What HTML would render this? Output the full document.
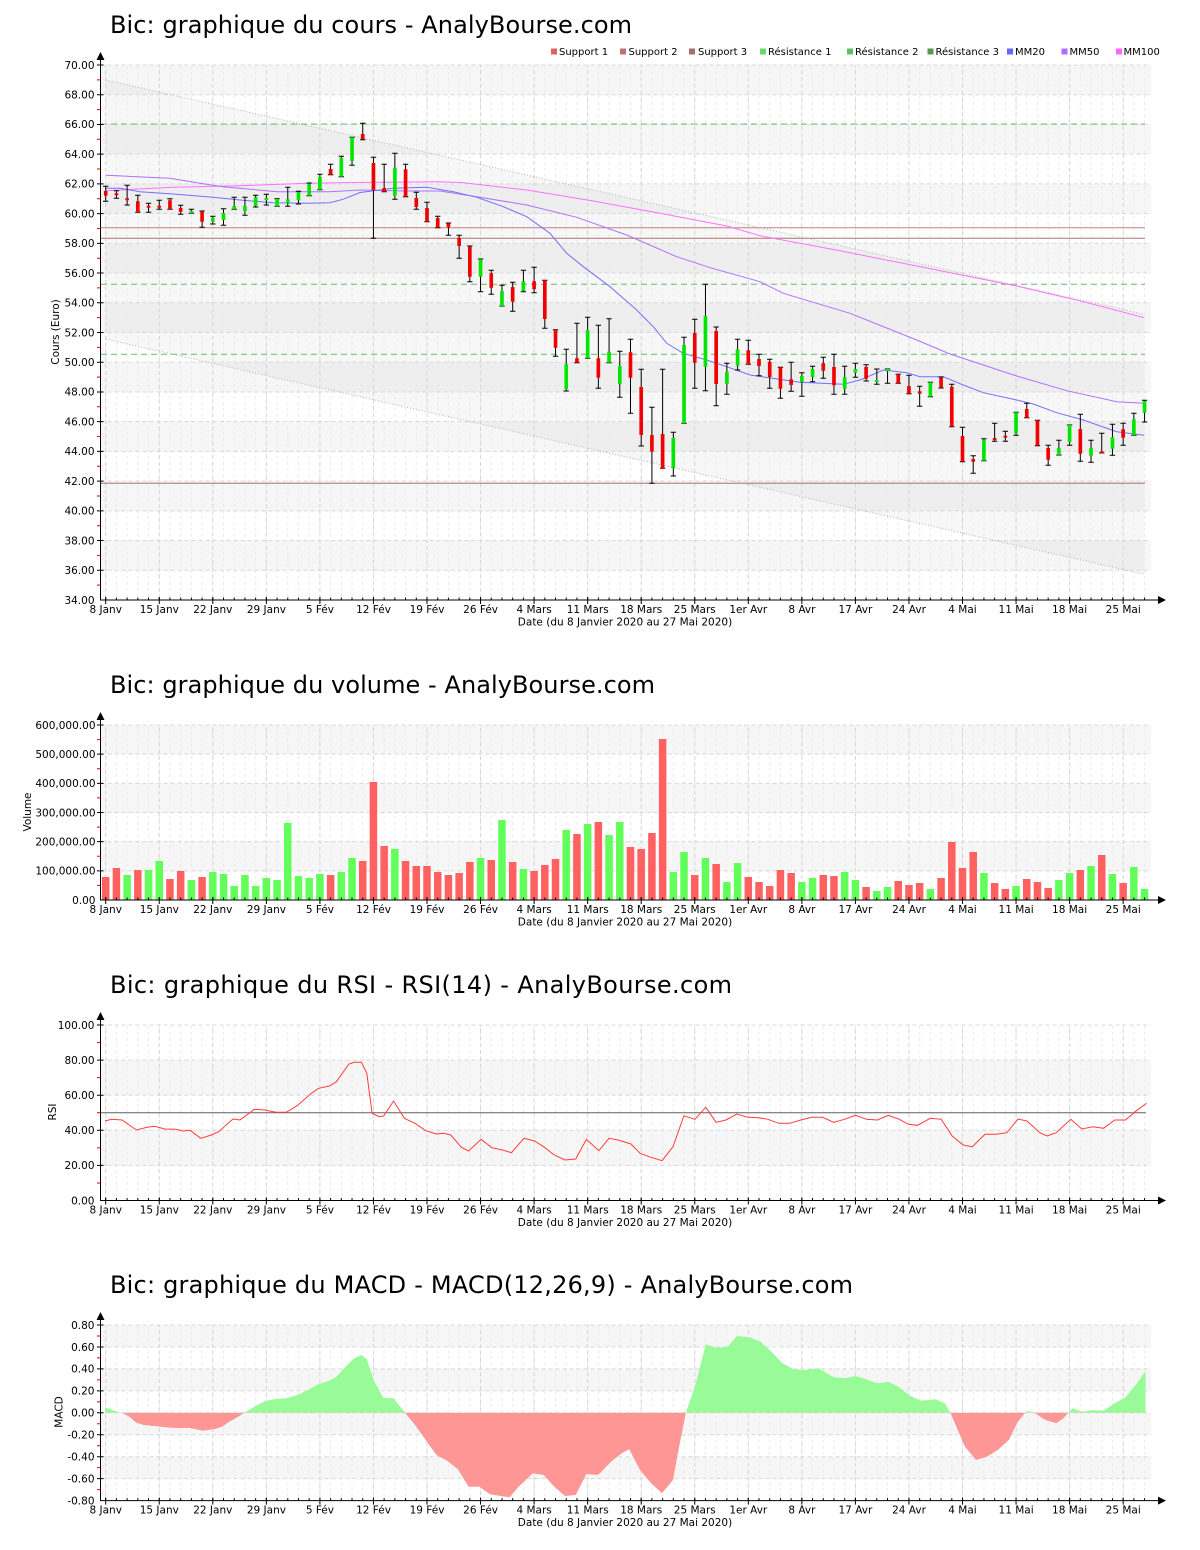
<!DOCTYPE html>
<html><head><meta charset="utf-8">
<style>
html,body{margin:0;padding:0;background:#fff}
svg{display:block}
text{font-family:"DejaVu Sans","Liberation Sans",sans-serif;fill:#000}
.t{font-size:24px}
.a{font-size:10.5px}
.l{font-size:10px}
.ns{vector-effect:non-scaling-stroke}
</style></head>
<body>
<svg xmlns="http://www.w3.org/2000/svg" width="1200" height="1550" viewBox="0 0 1200 1550">
<defs>
<pattern id="mg" x="105.2" y="0" width="10.71" height="6" patternUnits="userSpaceOnUse"><rect width="1" height="3" fill="#ebebeb"/></pattern>
<pattern id="Mg" x="105.2" y="0" width="53.55" height="7" patternUnits="userSpaceOnUse"><rect width="1" height="4" fill="#d6d6d6"/></pattern>
<pattern id="mt" x="105.2" y="0" width="10.71" height="1" patternUnits="userSpaceOnUse"><rect width="1" height="1" fill="#000"/></pattern>
<pattern id="Mt" x="105.2" y="0" width="53.55" height="1" patternUnits="userSpaceOnUse"><rect width="1" height="1" fill="#000"/></pattern>
<clipPath id="cu"><rect x="90" y="1300" width="1100" height="112.8"/></clipPath>
<clipPath id="cd"><rect x="90" y="1412.8" width="1100" height="100"/></clipPath>
</defs>

<!-- ================= PRICE CHART ================= -->
<text class="t" x="110" y="33" textLength="522" lengthAdjust="spacing">Bic: graphique du cours - AnalyBourse.com</text>

<!-- legend -->
<g>
<rect x="551" y="48.5" width="6" height="6" fill="#d86666"/><text class="l" x="559" y="55">Support 1</text>
<rect x="620" y="48.5" width="6" height="6" fill="#c07070"/><text class="l" x="628.5" y="55">Support 2</text>
<rect x="689" y="48.5" width="6" height="6" fill="#a07070"/><text class="l" x="698" y="55">Support 3</text>
<rect x="760" y="48.5" width="6" height="6" fill="#66dd66"/><text class="l" x="768" y="55">Résistance 1</text>
<rect x="847" y="48.5" width="6" height="6" fill="#66bb66"/><text class="l" x="855" y="55">Résistance 2</text>
<rect x="927.5" y="48.5" width="6" height="6" fill="#559955"/><text class="l" x="935.5" y="55">Résistance 3</text>
<rect x="1007" y="48.5" width="6" height="6" fill="#6666ff"/><text class="l" x="1015" y="55">MM20</text>
<rect x="1061.5" y="48.5" width="6" height="6" fill="#b070ff"/><text class="l" x="1069.5" y="55">MM50</text>
<rect x="1116" y="48.5" width="6" height="6" fill="#ff66ff"/><text class="l" x="1123.5" y="55">MM100</text>
</g>

<g fill="#f6f6f6">
<rect x="100.5" y="65" width="1050.5" height="29.72"/>
<rect x="100.5" y="124.44" width="1050.5" height="29.72"/>
<rect x="100.5" y="183.89" width="1050.5" height="29.72"/>
<rect x="100.5" y="243.33" width="1050.5" height="29.72"/>
<rect x="100.5" y="302.78" width="1050.5" height="29.72"/>
<rect x="100.5" y="362.22" width="1050.5" height="29.72"/>
<rect x="100.5" y="421.67" width="1050.5" height="29.72"/>
<rect x="100.5" y="481.11" width="1050.5" height="29.72"/>
<rect x="100.5" y="540.56" width="1050.5" height="29.72"/>
</g>
<polygon points="105.7,80 1144.3,314.3 1144.3,574.3 105.7,339.1" fill="rgba(0,0,0,0.03)"/>
<rect x="100.5" y="65" width="1050.5" height="535" fill="url(#mg)"/>
<rect x="100.5" y="65" width="1050.5" height="535" fill="url(#Mg)"/>
<path d="M100.5 65H1151M100.5 94.72H1151M100.5 124.44H1151M100.5 154.17H1151M100.5 183.89H1151M100.5 213.61H1151M100.5 243.33H1151M100.5 273.06H1151M100.5 302.78H1151M100.5 332.5H1151M100.5 362.22H1151M100.5 391.94H1151M100.5 421.67H1151M100.5 451.39H1151M100.5 481.11H1151M100.5 510.83H1151M100.5 540.56H1151M100.5 570.28H1151" stroke="#d8d8d8" stroke-dasharray="4 3" fill="none"/>

<!-- resistance -->
<path d="M101 124H1145M101 284.3H1145M101 354.3H1145" stroke="#6cb86c" stroke-dasharray="6 4" fill="none"/>
<!-- supports -->
<path d="M101 227.7H1145" stroke="#c08080" fill="none"/>
<path d="M101 238.3H1145M101 483.3H1145" stroke="#b07070" fill="none"/>
<!-- channel -->
<path d="M105.7 80L1144.3 314.3M105.7 339.1L1144.3 574.3" stroke="#b0b0b0" stroke-dasharray="1 2" fill="none"/>

<!-- MM100 -->
<polyline fill="none" stroke="#ff70ff" points="105.7,190.7 173,187.3 240,185.7 306.7,183.3 373,182.3 440,181.7 463.3,182.7 526.7,190 593.3,201 660,213.3 726.7,226 760,235.7 836,250 916.7,266 1016.7,286 1083.3,301.7 1144.3,317.7"/>
<!-- MM50 -->
<polyline fill="none" stroke="#b070ff" points="105.7,175.3 136.7,176.7 170,178.3 200,183.3 223,186.7 276.7,191.7 330,191.7 360,190 406.7,191 440,191 476.7,196.7 526.7,205 576.7,217.3 626.7,235 676.7,256.7 710,267.7 760,281.7 783.3,293.3 850,313.3 916.7,340 950,354 1016.7,376 1066.7,390.7 1116.7,401.7 1144.3,403.3"/>
<!-- MM20 -->
<polyline fill="none" stroke="#7070ff" points="105.7,188.3 120,188.3 140,191.7 173,194 213,197.3 240,200 273,202.7 306.7,203.3 330,202.7 343,199.3 360,192.5 393.3,188.3 426.7,187.3 453.3,191.7 476.7,197.3 503.3,206.7 526.7,216.7 550,233.3 566.7,253.3 583.3,266.7 610,286.7 636.7,310 653.3,326.7 666.7,343.3 683.3,353.3 706.7,360 726.7,366.7 750,375 800,382.3 843.3,384.3 860,380 883.3,370 906.7,372.7 920,376.7 943.3,376.7 963.3,385 983.3,392.7 1016.7,400 1033.3,404 1056.7,412.7 1083.3,420 1116.7,431.7 1144.3,435.3"/>

<!-- candles -->
<g transform="translate(105.7 0) scale(10.71 1)">
<path class="ns" stroke="#000" stroke-width="1" fill="none" d="M0 186.3V201.3M1 190.7V198.3M2 185.3V205M3 195.3V212.3M4 203.3V212.3M5 200.3V209.3M6 198.7V209.3M7 205.3V214.3M8 209.3V213.3M9 211V227.3M10 216.3V224M11 208.7V225.3M12 197.3V209.3M13 197.3V215.3M14 195.3V207M15 194.3V205M16 198.7V206.3M17 187.3V206.3M18 191.3V204M19 183V195.7M20 174.3V189.7M21 164.3V174.7M22 156.3V176.7M23 137.3V165.3M24 123.3V139.7M25 157.3V238.3M26 164.3V191.7M27 153.3V199.3M28 164.3V196.7M29 192.3V209.3M30 202.3V221.7M31 216.3V227.7M32 223V235.3M33 235.3V258.3M34 246V281.7M35 259V291.7M36 270.3V294.3M37 285.3V306M38 282.3V311.3M39 270.3V291.7M40 267.3V292.7M41 280.3V328.3M42 329.7V356.3M43 349.3V391M44 323.3V362.7M45 317.3V358.3M46 325.3V388.3M47 318.7V362.7M48 351.3V397.3M49 339.3V413.3M50 369.3V446M51 407.3V483.3M52 369.3V468.3M53 432.3V476M54 337.3V423.3M55 319.3V388.3M56 284.3V390.7M57 327V405.7M58 363.3V394.3M59 339.3V370M60 340.3V364.3M61 354.3V375.7M62 359.3V388.3M63 367.3V398.3M64 362.3V391.3M65 372.7V396.3M66 366.3V381.7M67 357.3V378.3M68 354.3V394.3M69 366.3V394.3M70 363.3V377.3M71 364.7V381M72 369V384.3M73 369V383.3M74 374.3V383.3M75 375.3V393.7M76 386.3V406.3M77 382.3V396.7M78 377V388M79 384.3V426.7M80 427.3V461.7M81 455.7V473.3M82 438.7V460.7M83 423.3V441.3M84 431.3V441.3M85 412.3V435.3M86 403.3V417.7M87 420.3V445.7M88 445.3V465.3M89 440.3V455M90 425V445.3M91 414.3V461.3M92 440.3V462.3M93 433.3V453M94 424.3V455.3M95 423.3V445.3M96 413.3V435.3M97 400.3V422"/>
<path class="ns" stroke="#000" stroke-width="1" fill="none" d="M-.25 186.3h.5M-.25 201.3h.5M.75 190.7h.5M.75 198.3h.5M1.75 185.3h.5M1.75 205h.5M2.75 195.3h.5M2.75 212.3h.5M3.75 203.3h.5M3.75 212.3h.5M4.75 200.3h.5M4.75 209.3h.5M5.75 198.7h.5M5.75 209.3h.5M6.75 205.3h.5M6.75 214.3h.5M7.75 209.3h.5M7.75 213.3h.5M8.75 211h.5M8.75 227.3h.5M9.75 216.3h.5M9.75 224h.5M10.75 208.7h.5M10.75 225.3h.5M11.75 197.3h.5M11.75 209.3h.5M12.75 197.3h.5M12.75 215.3h.5M13.75 195.3h.5M13.75 207h.5M14.75 194.3h.5M14.75 205h.5M15.75 198.7h.5M15.75 206.3h.5M16.75 187.3h.5M16.75 206.3h.5M17.75 191.3h.5M17.75 204h.5M18.75 183h.5M18.75 195.7h.5M19.75 174.3h.5M19.75 189.7h.5M20.75 164.3h.5M20.75 174.7h.5M21.75 156.3h.5M21.75 176.7h.5M22.75 137.3h.5M22.75 165.3h.5M23.75 123.3h.5M23.75 139.7h.5M24.75 157.3h.5M24.75 238.3h.5M25.75 164.3h.5M25.75 191.7h.5M26.75 153.3h.5M26.75 199.3h.5M27.75 164.3h.5M27.75 196.7h.5M28.75 192.3h.5M28.75 209.3h.5M29.75 202.3h.5M29.75 221.7h.5M30.75 216.3h.5M30.75 227.7h.5M31.75 223h.5M31.75 235.3h.5M32.75 235.3h.5M32.75 258.3h.5M33.75 246h.5M33.75 281.7h.5M34.75 259h.5M34.75 291.7h.5M35.75 270.3h.5M35.75 294.3h.5M36.75 285.3h.5M36.75 306h.5M37.75 282.3h.5M37.75 311.3h.5M38.75 270.3h.5M38.75 291.7h.5M39.75 267.3h.5M39.75 292.7h.5M40.75 280.3h.5M40.75 328.3h.5M41.75 329.7h.5M41.75 356.3h.5M42.75 349.3h.5M42.75 391h.5M43.75 323.3h.5M43.75 362.7h.5M44.75 317.3h.5M44.75 358.3h.5M45.75 325.3h.5M45.75 388.3h.5M46.75 318.7h.5M46.75 362.7h.5M47.75 351.3h.5M47.75 397.3h.5M48.75 339.3h.5M48.75 413.3h.5M49.75 369.3h.5M49.75 446h.5M50.75 407.3h.5M50.75 483.3h.5M51.75 369.3h.5M51.75 468.3h.5M52.75 432.3h.5M52.75 476h.5M53.75 337.3h.5M53.75 423.3h.5M54.75 319.3h.5M54.75 388.3h.5M55.75 284.3h.5M55.75 390.7h.5M56.75 327h.5M56.75 405.7h.5M57.75 363.3h.5M57.75 394.3h.5M58.75 339.3h.5M58.75 370h.5M59.75 340.3h.5M59.75 364.3h.5M60.75 354.3h.5M60.75 375.7h.5M61.75 359.3h.5M61.75 388.3h.5M62.75 367.3h.5M62.75 398.3h.5M63.75 362.3h.5M63.75 391.3h.5M64.75 372.7h.5M64.75 396.3h.5M65.75 366.3h.5M65.75 381.7h.5M66.75 357.3h.5M66.75 378.3h.5M67.75 354.3h.5M67.75 394.3h.5M68.75 366.3h.5M68.75 394.3h.5M69.75 363.3h.5M69.75 377.3h.5M70.75 364.7h.5M70.75 381h.5M71.75 369h.5M71.75 384.3h.5M72.75 369h.5M72.75 383.3h.5M73.75 374.3h.5M73.75 383.3h.5M74.75 375.3h.5M74.75 393.7h.5M75.75 386.3h.5M75.75 406.3h.5M76.75 382.3h.5M76.75 396.7h.5M77.75 377h.5M77.75 388h.5M78.75 384.3h.5M78.75 426.7h.5M79.75 427.3h.5M79.75 461.7h.5M80.75 455.7h.5M80.75 473.3h.5M81.75 438.7h.5M81.75 460.7h.5M82.75 423.3h.5M82.75 441.3h.5M83.75 431.3h.5M83.75 441.3h.5M84.75 412.3h.5M84.75 435.3h.5M85.75 403.3h.5M85.75 417.7h.5M86.75 420.3h.5M86.75 445.7h.5M87.75 445.3h.5M87.75 465.3h.5M88.75 440.3h.5M88.75 455h.5M89.75 425h.5M89.75 445.3h.5M90.75 414.3h.5M90.75 461.3h.5M91.75 440.3h.5M91.75 462.3h.5M92.75 433.3h.5M92.75 453h.5M93.75 424.3h.5M93.75 455.3h.5M94.75 423.3h.5M94.75 445.3h.5M95.75 413.3h.5M95.75 435.3h.5M96.75 400.3h.5M96.75 422h.5"/>
<path fill="#f00000" d="M-.17 191h.34v4.7h-.34zM.83 193.3h.34v2h-.34zM1.83 198.3h.34v2h-.34zM2.83 201.3h.34v11h-.34zM3.83 205.7h.34v2h-.34zM4.83 205.7h.34v2h-.34zM5.83 200.3h.34v9h-.34zM6.83 208h.34v3.7h-.34zM8.83 211.7h.34v10h-.34zM20.83 169h.34v5.7h-.34zM23.83 134h.34v5h-.34zM24.83 163h.34v27h-.34zM25.83 188h.34v3.7h-.34zM27.83 169.3h.34v27.4h-.34zM28.83 198h.34v9h-.34zM29.83 208h.34v13.7h-.34zM30.83 218h.34v9.7h-.34zM31.83 223.3h.34v4h-.34zM32.83 237.7h.34v8.3h-.34zM33.83 246.7h.34v30h-.34zM35.83 273.3h.34v14.4h-.34zM37.83 287h.34v14.7h-.34zM39.83 281.3h.34v8h-.34zM40.83 280.3h.34v38.7h-.34zM41.83 329.7h.34v18h-.34zM43.83 358.3h.34v4.4h-.34zM45.83 358.3h.34v19.4h-.34zM48.83 352.3h.34v25.4h-.34zM49.83 387h.34v48h-.34zM50.83 435h.34v16.7h-.34zM51.83 434h.34v34.3h-.34zM54.83 333h.34v29.7h-.34zM56.83 331h.34v53h-.34zM59.83 350.3h.34v14h-.34zM60.83 359h.34v7h-.34zM61.83 361.7h.34v15.3h-.34zM62.83 367.3h.34v21.4h-.34zM63.83 379.3h.34v5.7h-.34zM66.83 363.3h.34v7.4h-.34zM67.83 367h.34v18.3h-.34zM70.83 367h.34v11.7h-.34zM73.83 374.3h.34v9h-.34zM74.83 386h.34v7.7h-.34zM75.83 391.3h.34v2.4h-.34zM77.83 377.7h.34v9.6h-.34zM78.83 386.7h.34v40h-.34zM79.83 436h.34v25.7h-.34zM80.83 459h.34v2.7h-.34zM82.83 438h.34v2h-.34zM83.83 435.7h.34v2h-.34zM85.83 409h.34v8.7h-.34zM86.83 420.3h.34v25.4h-.34zM87.83 448h.34v11.7h-.34zM90.83 429h.34v24.7h-.34zM92.83 451.3h.34v2h-.34zM94.83 429.3h.34v8.4h-.34z"/>
<path fill="#00e600" d="M7.83 211h.34v2.3h-.34zM9.83 217.7h.34v4h-.34zM10.83 213h.34v7h-.34zM11.83 206h.34v3.3h-.34zM12.83 206h.34v5h-.34zM13.83 197.3h.34v8.4h-.34zM14.83 198h.34v2h-.34zM15.83 199h.34v7.3h-.34zM16.83 199.3h.34v4h-.34zM17.83 192h.34v8.3h-.34zM18.83 183.7h.34v12h-.34zM19.83 176.7h.34v13h-.34zM21.83 157.7h.34v19h-.34zM22.83 137.3h.34v23.7h-.34zM26.83 167.7h.34v28h-.34zM34.83 259.3h.34v17.4h-.34zM36.83 291h.34v15h-.34zM38.83 281.3h.34v9.7h-.34zM42.83 364.3h.34v24.7h-.34zM44.83 330h.34v28.3h-.34zM46.83 351.7h.34v11h-.34zM47.83 366h.34v18.3h-.34zM52.83 438h.34v30.3h-.34zM53.83 345h.34v78.3h-.34zM55.83 316h.34v50.7h-.34zM57.83 371.7h.34v12.3h-.34zM58.83 349.3h.34v16.4h-.34zM64.83 376h.34v6h-.34zM65.83 369h.34v8h-.34zM68.83 377.3h.34v11.4h-.34zM69.83 369h.34v3.7h-.34zM71.83 380h.34v2h-.34zM72.83 369h.34v2.3h-.34zM76.83 382.3h.34v14.4h-.34zM81.83 439.7h.34v21h-.34zM84.83 412.3h.34v21h-.34zM88.83 448h.34v7h-.34zM89.83 425h.34v17h-.34zM91.83 448h.34v7.7h-.34zM93.83 437.3h.34v11.4h-.34zM95.83 419.3h.34v16h-.34zM96.83 401h.34v11.7h-.34z"/>
</g>

<!-- price axes -->
<path d="M100.5 58V600H1160" stroke="#000" fill="none"/>
<path d="M96.5 60L104.5 60L100.5 52Z M1158 596L1158 604L1166 600Z" fill="#000"/>
<rect x="100.5" y="597.5" width="1050" height="2.5" fill="url(#mt)"/>
<rect x="100.5" y="597" width="1050" height="7" fill="url(#Mt)"/>
<path d="M97 65H103.5M97 94.72H103.5M97 124.44H103.5M97 154.17H103.5M97 183.89H103.5M97 213.61H103.5M97 243.33H103.5M97 273.06H103.5M97 302.78H103.5M97 332.5H103.5M97 362.22H103.5M97 391.94H103.5M97 421.67H103.5M97 451.39H103.5M97 481.11H103.5M97 510.83H103.5M97 540.56H103.5M97 570.28H103.5" stroke="#000"/>
<path d="M97 79.86H100.5M97 109.58H100.5M97 139.3H100.5M97 169.03H100.5M97 198.75H100.5M97 228.47H100.5M97 258.2H100.5M97 287.92H100.5M97 317.64H100.5M97 347.36H100.5M97 377.08H100.5M97 406.8H100.5M97 436.53H100.5M97 466.25H100.5M97 495.97H100.5M97 525.7H100.5M97 555.42H100.5M97 585.14H100.5" stroke="#e00000"/>
<g text-anchor="end">
<text class="a" x="94.5" y="68.8">70.00</text><text class="a" x="94.5" y="98.5">68.00</text><text class="a" x="94.5" y="128.2">66.00</text><text class="a" x="94.5" y="158">64.00</text><text class="a" x="94.5" y="187.7">62.00</text><text class="a" x="94.5" y="217.4">60.00</text><text class="a" x="94.5" y="247.1">58.00</text><text class="a" x="94.5" y="276.9">56.00</text><text class="a" x="94.5" y="306.6">54.00</text><text class="a" x="94.5" y="336.3">52.00</text><text class="a" x="94.5" y="366">50.00</text><text class="a" x="94.5" y="395.7">48.00</text><text class="a" x="94.5" y="425.5">46.00</text><text class="a" x="94.5" y="455.2">44.00</text><text class="a" x="94.5" y="484.9">42.00</text><text class="a" x="94.5" y="514.6">40.00</text><text class="a" x="94.5" y="544.4">38.00</text><text class="a" x="94.5" y="574.1">36.00</text><text class="a" x="94.5" y="603.8">34.00</text>
</g>
<g text-anchor="middle">
<text class="a" x="105.7" y="613">8 Janv</text><text class="a" x="159.3" y="613">15 Janv</text><text class="a" x="212.8" y="613">22 Janv</text><text class="a" x="266.4" y="613">29 Janv</text><text class="a" x="319.9" y="613">5 Fév</text><text class="a" x="373.5" y="613">12 Fév</text><text class="a" x="427" y="613">19 Fév</text><text class="a" x="480.6" y="613">26 Fév</text><text class="a" x="534.1" y="613">4 Mars</text><text class="a" x="587.7" y="613">11 Mars</text><text class="a" x="641.2" y="613">18 Mars</text><text class="a" x="694.8" y="613">25 Mars</text><text class="a" x="748.3" y="613">1er Avr</text><text class="a" x="801.9" y="613">8 Avr</text><text class="a" x="855.4" y="613">17 Avr</text><text class="a" x="909" y="613">24 Avr</text><text class="a" x="962.5" y="613">4 Mai</text><text class="a" x="1016.1" y="613">11 Mai</text><text class="a" x="1069.6" y="613">18 Mai</text><text class="a" x="1123.2" y="613">25 Mai</text>
<text class="a" x="625" y="625.5">Date (du 8 Janvier 2020 au 27 Mai 2020)</text>
<text class="a" transform="translate(59 332) rotate(-90)">Cours (Euro)</text>
</g>

<!-- ================= VOLUME CHART ================= -->
<text class="t" x="110" y="693" textLength="545" lengthAdjust="spacing">Bic: graphique du volume - AnalyBourse.com</text>
<g fill="#f6f6f6">
<rect x="100.5" y="725" width="1050.5" height="29.17"/>
<rect x="100.5" y="783.33" width="1050.5" height="29.17"/>
<rect x="100.5" y="841.67" width="1050.5" height="29.17"/>
</g>
<rect x="100.5" y="725" width="1050.5" height="175" fill="url(#mg)"/>
<rect x="100.5" y="725" width="1050.5" height="175" fill="url(#Mg)"/>
<path d="M100.5 725H1151M100.5 754.17H1151M100.5 783.33H1151M100.5 812.5H1151M100.5 841.67H1151M100.5 870.83H1151" stroke="#d8d8d8" stroke-dasharray="4 3" fill="none"/>
<g transform="translate(105.7 0) scale(10.71 1)">
<path fill="#ff6060" d="M-.35 877h.7V900h-.7zM.65 868h.7V900h-.7zM2.65 870h.7V900h-.7zM5.65 879h.7V900h-.7zM6.65 871h.7V900h-.7zM8.65 877h.7V900h-.7zM20.65 875h.7V900h-.7zM23.65 861h.7V900h-.7zM24.65 782h.7V900h-.7zM25.65 846h.7V900h-.7zM27.65 861h.7V900h-.7zM28.65 866h.7V900h-.7zM29.65 866h.7V900h-.7zM30.65 872h.7V900h-.7zM31.65 875h.7V900h-.7zM32.65 873h.7V900h-.7zM33.65 862h.7V900h-.7zM35.65 860h.7V900h-.7zM37.65 862h.7V900h-.7zM39.65 871h.7V900h-.7zM40.65 865h.7V900h-.7zM41.65 859h.7V900h-.7zM43.65 834h.7V900h-.7zM45.65 822h.7V900h-.7zM48.65 847h.7V900h-.7zM49.65 849h.7V900h-.7zM50.65 833h.7V900h-.7zM51.65 739h.7V900h-.7zM54.65 875h.7V900h-.7zM56.65 864h.7V900h-.7zM59.65 877h.7V900h-.7zM60.65 882h.7V900h-.7zM61.65 886h.7V900h-.7zM62.65 870h.7V900h-.7zM63.65 873h.7V900h-.7zM66.65 875h.7V900h-.7zM67.65 876h.7V900h-.7zM70.65 887h.7V900h-.7zM73.65 881h.7V900h-.7zM74.65 885h.7V900h-.7zM75.65 883h.7V900h-.7zM77.65 878h.7V900h-.7zM78.65 842h.7V900h-.7zM79.65 868h.7V900h-.7zM80.65 852h.7V900h-.7zM82.65 883h.7V900h-.7zM83.65 889h.7V900h-.7zM85.65 879h.7V900h-.7zM86.65 882h.7V900h-.7zM87.65 888h.7V900h-.7zM90.65 870h.7V900h-.7zM92.65 855h.7V900h-.7zM94.65 883h.7V900h-.7z"/>
<path fill="#62ff5a" d="M1.65 875h.7V900h-.7zM3.65 870h.7V900h-.7zM4.65 861h.7V900h-.7zM7.65 880h.7V900h-.7zM9.65 872h.7V900h-.7zM10.65 874h.7V900h-.7zM11.65 886h.7V900h-.7zM12.65 875h.7V900h-.7zM13.65 886h.7V900h-.7zM14.65 878h.7V900h-.7zM15.65 880h.7V900h-.7zM16.65 823h.7V900h-.7zM17.65 876h.7V900h-.7zM18.65 878h.7V900h-.7zM19.65 874h.7V900h-.7zM21.65 872h.7V900h-.7zM22.65 858h.7V900h-.7zM26.65 849h.7V900h-.7zM34.65 858h.7V900h-.7zM36.65 820h.7V900h-.7zM38.65 869h.7V900h-.7zM42.65 830h.7V900h-.7zM44.65 824h.7V900h-.7zM46.65 835h.7V900h-.7zM47.65 822h.7V900h-.7zM52.65 872h.7V900h-.7zM53.65 852h.7V900h-.7zM55.65 858h.7V900h-.7zM57.65 882h.7V900h-.7zM58.65 863h.7V900h-.7zM64.65 882h.7V900h-.7zM65.65 878h.7V900h-.7zM68.65 872h.7V900h-.7zM69.65 880h.7V900h-.7zM71.65 891h.7V900h-.7zM72.65 887h.7V900h-.7zM76.65 889h.7V900h-.7zM81.65 873h.7V900h-.7zM84.65 886h.7V900h-.7zM88.65 880h.7V900h-.7zM89.65 873h.7V900h-.7zM91.65 866h.7V900h-.7zM93.65 874h.7V900h-.7zM95.65 867h.7V900h-.7zM96.65 889h.7V900h-.7z"/>
</g>
<path d="M100.5 718V900H1160" stroke="#000" fill="none"/>
<path d="M96.5 720L104.5 720L100.5 712Z M1158 896L1158 904L1166 900Z" fill="#000"/>
<rect x="100.5" y="897.5" width="1050" height="2.5" fill="url(#mt)"/>
<rect x="100.5" y="897" width="1050" height="7" fill="url(#Mt)"/>
<path d="M97 725H103.5M97 754.17H103.5M97 783.33H103.5M97 812.5H103.5M97 841.67H103.5M97 870.83H103.5" stroke="#000"/>
<path d="M97 739.6H100.5M97 768.75H100.5M97 797.9H100.5M97 827.1H100.5M97 856.25H100.5M97 885.4H100.5" stroke="#e00000"/>
<g text-anchor="end">
<text class="a" x="95.5" y="728.8">600,000.00</text><text class="a" x="95.5" y="758">500,000.00</text><text class="a" x="95.5" y="787.1">400,000.00</text><text class="a" x="95.5" y="816.3">300,000.00</text><text class="a" x="95.5" y="845.5">200,000.00</text><text class="a" x="95.5" y="874.6">100,000.00</text><text class="a" x="95.5" y="903.8">0.00</text>
</g>
<g text-anchor="middle">
<text class="a" x="105.7" y="913">8 Janv</text><text class="a" x="159.3" y="913">15 Janv</text><text class="a" x="212.8" y="913">22 Janv</text><text class="a" x="266.4" y="913">29 Janv</text><text class="a" x="319.9" y="913">5 Fév</text><text class="a" x="373.5" y="913">12 Fév</text><text class="a" x="427" y="913">19 Fév</text><text class="a" x="480.6" y="913">26 Fév</text><text class="a" x="534.1" y="913">4 Mars</text><text class="a" x="587.7" y="913">11 Mars</text><text class="a" x="641.2" y="913">18 Mars</text><text class="a" x="694.8" y="913">25 Mars</text><text class="a" x="748.3" y="913">1er Avr</text><text class="a" x="801.9" y="913">8 Avr</text><text class="a" x="855.4" y="913">17 Avr</text><text class="a" x="909" y="913">24 Avr</text><text class="a" x="962.5" y="913">4 Mai</text><text class="a" x="1016.1" y="913">11 Mai</text><text class="a" x="1069.6" y="913">18 Mai</text><text class="a" x="1123.2" y="913">25 Mai</text>
<text class="a" x="625" y="925.5">Date (du 8 Janvier 2020 au 27 Mai 2020)</text>
<text class="a" transform="translate(31 812) rotate(-90)">Volume</text>
</g>

<!-- ================= RSI CHART ================= -->
<text class="t" x="110" y="993" textLength="622" lengthAdjust="spacing">Bic: graphique du RSI - RSI(14) - AnalyBourse.com</text>
<g fill="#f6f6f6">
<rect x="100.5" y="1060.1" width="1050.5" height="35.1"/>
<rect x="100.5" y="1130.3" width="1050.5" height="35.1"/>
</g>
<rect x="100.5" y="1025" width="1050.5" height="175.5" fill="url(#mg)"/>
<rect x="100.5" y="1025" width="1050.5" height="175.5" fill="url(#Mg)"/>
<path d="M100.5 1025H1151M100.5 1060.1H1151M100.5 1095.2H1151M100.5 1130.3H1151M100.5 1165.4H1151" stroke="#d8d8d8" stroke-dasharray="4 3" fill="none"/>
<path d="M100.5 1112.8H1146" stroke="#606060" fill="none"/>
<polyline fill="none" stroke="#ff3c3c" points="105,1121 111.4,1119.3 122.1,1120 136.4,1130 147.1,1127.3 154.3,1126.3 165,1129 175.7,1129.3 182.9,1131 190,1130.3 200.7,1138.3 211.4,1135 218.6,1131.7 232.9,1119 240,1120 254.3,1109.3 265,1110 275.7,1112.3 286.4,1112.3 297.1,1105.7 311.4,1093.3 318.6,1088.3 329.3,1086 336.4,1081.7 348.9,1064 354.3,1062.3 361.4,1062.3 366.8,1073.3 372.1,1113.3 379.3,1116.7 383.6,1116 393.6,1101 404.3,1118.3 415,1123.3 425.7,1130.7 436.4,1134 443.6,1133.3 450.7,1135 461.4,1147.3 468.6,1151 481.1,1139.3 491.8,1147.7 502.5,1150 511.4,1152.7 523.9,1138.3 534.6,1141 543.6,1146.7 554.3,1155 565,1160 575.7,1159 586.4,1139.3 598.9,1150.7 609.1,1138.3 618.2,1140 631,1144 640.1,1153.3 651.1,1157.3 662,1160.7 673,1146.7 683.9,1115.7 694.9,1119.3 705.8,1107.3 716.1,1122.3 725.9,1120 736.9,1114 747.8,1117.3 758.8,1117.7 767.9,1119.3 778.8,1123.3 789.8,1123.3 800.7,1120 811.7,1117.3 822.6,1117.3 833.6,1122.3 844.5,1119.3 855.5,1115.3 866.4,1119.3 877.4,1120 888.3,1115.3 899.3,1119.3 908.4,1124.3 917.5,1125.3 930.3,1118.3 941.2,1119.3 952.2,1136 963.1,1145 972.3,1146.7 985,1134.3 996,1134.3 1006.9,1132.7 1017.9,1119 1027,1121 1039.8,1132.7 1047.1,1136 1056.2,1132.7 1070.8,1119.3 1081.8,1129 1092.7,1126.7 1103.6,1128.3 1114.6,1120 1125.5,1120 1136.5,1110.7 1146.4,1103.3"/>
<path d="M100.5 1018V1200.5H1160" stroke="#000" fill="none"/>
<path d="M96.5 1020L104.5 1020L100.5 1012Z M1158 1196.5L1158 1204.5L1166 1200.5Z" fill="#000"/>
<rect x="100.5" y="1198" width="1050" height="2.5" fill="url(#mt)"/>
<rect x="100.5" y="1197.5" width="1050" height="7" fill="url(#Mt)"/>
<path d="M97 1025H103.5M97 1060.1H103.5M97 1095.2H103.5M97 1130.3H103.5M97 1165.4H103.5" stroke="#000"/>
<path d="M97 1042.55H100.5M97 1077.65H100.5M97 1112.75H100.5M97 1147.85H100.5M97 1182.95H100.5" stroke="#e00000"/>
<g text-anchor="end">
<text class="a" x="94.5" y="1028.8">100.00</text><text class="a" x="94.5" y="1063.9">80.00</text><text class="a" x="94.5" y="1099">60.00</text><text class="a" x="94.5" y="1134.1">40.00</text><text class="a" x="94.5" y="1169.2">20.00</text><text class="a" x="94.5" y="1204.3">0.00</text>
</g>
<g text-anchor="middle">
<text class="a" x="105.7" y="1213.5">8 Janv</text><text class="a" x="159.3" y="1213.5">15 Janv</text><text class="a" x="212.8" y="1213.5">22 Janv</text><text class="a" x="266.4" y="1213.5">29 Janv</text><text class="a" x="319.9" y="1213.5">5 Fév</text><text class="a" x="373.5" y="1213.5">12 Fév</text><text class="a" x="427" y="1213.5">19 Fév</text><text class="a" x="480.6" y="1213.5">26 Fév</text><text class="a" x="534.1" y="1213.5">4 Mars</text><text class="a" x="587.7" y="1213.5">11 Mars</text><text class="a" x="641.2" y="1213.5">18 Mars</text><text class="a" x="694.8" y="1213.5">25 Mars</text><text class="a" x="748.3" y="1213.5">1er Avr</text><text class="a" x="801.9" y="1213.5">8 Avr</text><text class="a" x="855.4" y="1213.5">17 Avr</text><text class="a" x="909" y="1213.5">24 Avr</text><text class="a" x="962.5" y="1213.5">4 Mai</text><text class="a" x="1016.1" y="1213.5">11 Mai</text><text class="a" x="1069.6" y="1213.5">18 Mai</text><text class="a" x="1123.2" y="1213.5">25 Mai</text>
<text class="a" x="625" y="1226">Date (du 8 Janvier 2020 au 27 Mai 2020)</text>
<text class="a" transform="translate(56 1112) rotate(-90)">RSI</text>
</g>

<!-- ================= MACD CHART ================= -->
<text class="t" x="110" y="1293" textLength="743" lengthAdjust="spacing">Bic: graphique du MACD - MACD(12,26,9) - AnalyBourse.com</text>
<g fill="#f6f6f6">
<rect x="100.5" y="1325" width="1050.5" height="21.95"/>
<rect x="100.5" y="1368.9" width="1050.5" height="21.95"/>
<rect x="100.5" y="1412.8" width="1050.5" height="21.95"/>
<rect x="100.5" y="1456.7" width="1050.5" height="21.95"/>
</g>
<rect x="100.5" y="1325" width="1050.5" height="175.6" fill="url(#mg)"/>
<rect x="100.5" y="1325" width="1050.5" height="175.6" fill="url(#Mg)"/>
<path d="M100.5 1325H1151M100.5 1346.95H1151M100.5 1368.9H1151M100.5 1390.85H1151M100.5 1412.8H1151M100.5 1434.75H1151M100.5 1456.7H1151M100.5 1478.65H1151" stroke="#d8d8d8" stroke-dasharray="4 3" fill="none"/>
<g>
<polygon clip-path="url(#cu)" fill="#98fb98" points="105,1412.8 105,1407.7 109.6,1408.7 116.8,1411.7 122.1,1412.7 129.3,1416.7 136.4,1422.7 143.6,1425 154.3,1426 165,1427.3 175.7,1428 190,1428 202.5,1430.7 215,1429 222.1,1426.7 229.3,1421.7 238.2,1416.7 244.3,1412.7 254.3,1406.7 265,1401 275.7,1399 286.4,1398.3 297.1,1395 307.9,1390 318.6,1384 329.3,1380.7 336.4,1376.7 347.1,1365 354.3,1358.3 361.4,1355 366.8,1359.3 373.9,1380.7 383.6,1398 393.6,1398.3 398.9,1405 405,1412.7 415,1425 425.7,1440 436.4,1455 447.1,1460.7 457.9,1469.3 468.6,1486.7 479.3,1486.7 490,1494.3 500.7,1496 509.6,1497.3 518.6,1486.7 532.9,1473.3 543.6,1475 554.3,1486.7 565,1496 575.7,1495 586.4,1474 597.1,1475 600,1473.3 611,1461.7 621.9,1453.3 629.2,1449.3 640.1,1470 651.1,1483.3 662,1493.3 673,1480 678.5,1450 685.8,1412.7 694.9,1386.7 705.8,1344.3 716.8,1347.7 727.7,1346.7 736.9,1336 749.6,1337.3 760.6,1341.7 771.5,1351.7 782.5,1363.3 793.4,1369.3 804.4,1370 819,1368.3 833.6,1377.3 844.5,1378.3 855.5,1376 866.4,1379.3 877.4,1383.3 888.3,1381.7 899.3,1387.3 910.2,1396 921.2,1400.7 935.8,1399.3 944.9,1403.3 950.4,1412.7 957.7,1430 965,1446.7 975.9,1460 986.9,1456.7 997.8,1450 1008.8,1440 1017.9,1421.7 1025.2,1412.7 1028.8,1411 1034.3,1412.7 1045.3,1420 1056.2,1423.3 1063.5,1418.3 1068.2,1412.7 1072.6,1408.3 1081.8,1411.7 1092.7,1410 1103.6,1410.7 1114.6,1403.3 1125.5,1397.3 1136.5,1384 1145.6,1371 1145.6,1412.8"/>
<polygon clip-path="url(#cd)" fill="#ff9696" points="105,1412.8 105,1407.7 109.6,1408.7 116.8,1411.7 122.1,1412.7 129.3,1416.7 136.4,1422.7 143.6,1425 154.3,1426 165,1427.3 175.7,1428 190,1428 202.5,1430.7 215,1429 222.1,1426.7 229.3,1421.7 238.2,1416.7 244.3,1412.7 254.3,1406.7 265,1401 275.7,1399 286.4,1398.3 297.1,1395 307.9,1390 318.6,1384 329.3,1380.7 336.4,1376.7 347.1,1365 354.3,1358.3 361.4,1355 366.8,1359.3 373.9,1380.7 383.6,1398 393.6,1398.3 398.9,1405 405,1412.7 415,1425 425.7,1440 436.4,1455 447.1,1460.7 457.9,1469.3 468.6,1486.7 479.3,1486.7 490,1494.3 500.7,1496 509.6,1497.3 518.6,1486.7 532.9,1473.3 543.6,1475 554.3,1486.7 565,1496 575.7,1495 586.4,1474 597.1,1475 600,1473.3 611,1461.7 621.9,1453.3 629.2,1449.3 640.1,1470 651.1,1483.3 662,1493.3 673,1480 678.5,1450 685.8,1412.7 694.9,1386.7 705.8,1344.3 716.8,1347.7 727.7,1346.7 736.9,1336 749.6,1337.3 760.6,1341.7 771.5,1351.7 782.5,1363.3 793.4,1369.3 804.4,1370 819,1368.3 833.6,1377.3 844.5,1378.3 855.5,1376 866.4,1379.3 877.4,1383.3 888.3,1381.7 899.3,1387.3 910.2,1396 921.2,1400.7 935.8,1399.3 944.9,1403.3 950.4,1412.7 957.7,1430 965,1446.7 975.9,1460 986.9,1456.7 997.8,1450 1008.8,1440 1017.9,1421.7 1025.2,1412.7 1028.8,1411 1034.3,1412.7 1045.3,1420 1056.2,1423.3 1063.5,1418.3 1068.2,1412.7 1072.6,1408.3 1081.8,1411.7 1092.7,1410 1103.6,1410.7 1114.6,1403.3 1125.5,1397.3 1136.5,1384 1145.6,1371 1145.6,1412.8"/>
</g>
<path d="M100.5 1318V1500.6H1160" stroke="#000" fill="none"/>
<path d="M96.5 1320L104.5 1320L100.5 1312Z M1158 1496.6L1158 1504.6L1166 1500.6Z" fill="#000"/>
<rect x="100.5" y="1498.1" width="1050" height="2.5" fill="url(#mt)"/>
<rect x="100.5" y="1497.6" width="1050" height="7" fill="url(#Mt)"/>
<path d="M97 1325H103.5M97 1346.95H103.5M97 1368.9H103.5M97 1390.85H103.5M97 1412.8H103.5M97 1434.75H103.5M97 1456.7H103.5M97 1478.65H103.5" stroke="#000"/>
<path d="M97 1335.98H100.5M97 1357.93H100.5M97 1379.88H100.5M97 1401.83H100.5M97 1423.78H100.5M97 1445.73H100.5M97 1467.68H100.5M97 1489.63H100.5" stroke="#e00000"/>
<g text-anchor="end">
<text class="a" x="94.5" y="1328.8">0.80</text><text class="a" x="94.5" y="1350.8">0.60</text><text class="a" x="94.5" y="1372.7">0.40</text><text class="a" x="94.5" y="1394.7">0.20</text><text class="a" x="94.5" y="1416.6">0.00</text><text class="a" x="94.5" y="1438.6">-0.20</text><text class="a" x="94.5" y="1460.5">-0.40</text><text class="a" x="94.5" y="1482.5">-0.60</text><text class="a" x="94.5" y="1504.4">-0.80</text>
</g>
<g text-anchor="middle">
<text class="a" x="105.7" y="1513.5">8 Janv</text><text class="a" x="159.3" y="1513.5">15 Janv</text><text class="a" x="212.8" y="1513.5">22 Janv</text><text class="a" x="266.4" y="1513.5">29 Janv</text><text class="a" x="319.9" y="1513.5">5 Fév</text><text class="a" x="373.5" y="1513.5">12 Fév</text><text class="a" x="427" y="1513.5">19 Fév</text><text class="a" x="480.6" y="1513.5">26 Fév</text><text class="a" x="534.1" y="1513.5">4 Mars</text><text class="a" x="587.7" y="1513.5">11 Mars</text><text class="a" x="641.2" y="1513.5">18 Mars</text><text class="a" x="694.8" y="1513.5">25 Mars</text><text class="a" x="748.3" y="1513.5">1er Avr</text><text class="a" x="801.9" y="1513.5">8 Avr</text><text class="a" x="855.4" y="1513.5">17 Avr</text><text class="a" x="909" y="1513.5">24 Avr</text><text class="a" x="962.5" y="1513.5">4 Mai</text><text class="a" x="1016.1" y="1513.5">11 Mai</text><text class="a" x="1069.6" y="1513.5">18 Mai</text><text class="a" x="1123.2" y="1513.5">25 Mai</text>
<text class="a" x="625" y="1526">Date (du 8 Janvier 2020 au 27 Mai 2020)</text>
<text class="a" transform="translate(62.5 1412) rotate(-90)">MACD</text>
</g>
</svg>
</body></html>
